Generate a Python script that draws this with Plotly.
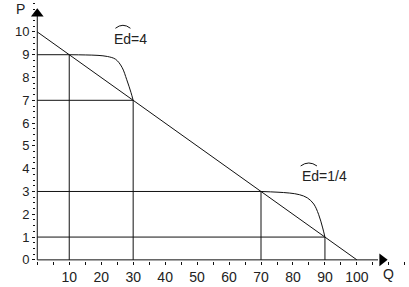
import plotly.graph_objects as go

# Demand line end points
demand_q = [0, 100]
demand_p = [10, 0]

# Reference points (Q, P)
ref_q = [10, 30, 70, 90]
ref_p = [9, 7, 3, 1]

# Kinked curve readings
curve1_q = [10, 15, 19, 22, 24.5, 26.5, 28, 29.3, 30]
curve1_p = [9, 8.99, 8.97, 8.92, 8.8, 8.45, 7.9, 7.35, 7]
curve2_q = [70, 75, 79, 82, 84.5, 86.5, 88, 89.3, 90]
curve2_p = [3, 2.97, 2.93, 2.86, 2.72, 2.45, 2.0, 1.4, 1]

x_ticks = [10, 20, 30, 40, 50, 60, 70, 80, 90, 100]
y_ticks = [0, 1, 2, 3, 4, 5, 6, 7, 8, 9, 10]

labels = ["Ed=4", "Ed=1/4"]
label_pos = [(23.5, 9.69), (82.1, 3.70)]
hat_pos = [(24.45, 29.15, 10.16, 10.42), (82.4, 87.5, 4.12, 4.38)]

LC = "#111111"
fig = go.Figure()

def line(xs, ys, shape="linear"):
    fig.add_trace(go.Scatter(x=xs, y=ys, mode="lines",
                             line=dict(color=LC, width=1, shape=shape),
                             hoverinfo="skip", showlegend=False))

# axes lines
line([0, 106.6], [0, 0])
line([0, 0], [0, 10.7])
# demand line
line(demand_q, demand_p)
# guide lines
for q, p in zip(ref_q, ref_p):
    line([0, q], [p, p])
    line([q, q], [0, p])
# kinked curves
line(curve1_q, curve1_p, "spline")
line(curve2_q, curve2_p, "spline")

# arrow heads
fig.add_trace(go.Scatter(x=[107.9], y=[0], mode="markers", cliponaxis=False,
                         marker=dict(symbol="triangle-right", size=11, color="black"),
                         hoverinfo="skip", showlegend=False))
fig.add_trace(go.Scatter(x=[0], y=[10.8], mode="markers", cliponaxis=False,
                         marker=dict(symbol="triangle-up", size=11, color="black"),
                         hoverinfo="skip", showlegend=False))

font = dict(family="Liberation Sans, Arial, sans-serif", size=14, color="#222222")
for t, (x, y) in zip(labels, label_pos):
    fig.add_annotation(x=x, y=y, text=t, showarrow=False, xanchor="left",
                       yanchor="middle", font=font)
for (x0, x1, y0, yc) in hat_pos:
    fig.add_shape(type="path", xref="x", yref="y",
                  path=f"M {x0},{y0} Q {(x0+x1)/2},{yc} {x1},{y0}",
                  line=dict(color=LC, width=1))

fig.add_annotation(x=(20-36)/373, y=(261-9)/261, xref="paper", yref="paper", text="P",
                   showarrow=False, xanchor="center", yanchor="middle", font=font)
fig.add_annotation(x=(388-36)/373, y=(261-274)/261, xref="paper", yref="paper", text="Q",
                   showarrow=False, xanchor="center", yanchor="middle", font=font)

fig.update_layout(
    width=409, height=287,
    margin=dict(l=36, r=0, t=0, b=26),
    paper_bgcolor="white", plot_bgcolor="white",
    xaxis=dict(range=[-0.4, 116.3], tickvals=x_ticks, ticks="outside", ticklen=3,
               tickcolor=LC, showgrid=False, zeroline=False, showline=False,
               minor=dict(dtick=5, tick0=0, ticks="outside", ticklen=3, tickcolor=LC, showgrid=False),
               tickfont=font),
    yaxis=dict(range=[-0.05, 11.4], tickvals=y_ticks, ticks="outside", ticklen=3,
               tickcolor=LC, showgrid=False, zeroline=False, showline=False,
               minor=dict(dtick=0.25, tick0=0, ticks="outside", ticklen=2, tickcolor=LC, showgrid=False),
               tickfont=dict(family="Liberation Sans, Arial, sans-serif", size=13, color="#222222")),
)

fig.write_html("out.html")
